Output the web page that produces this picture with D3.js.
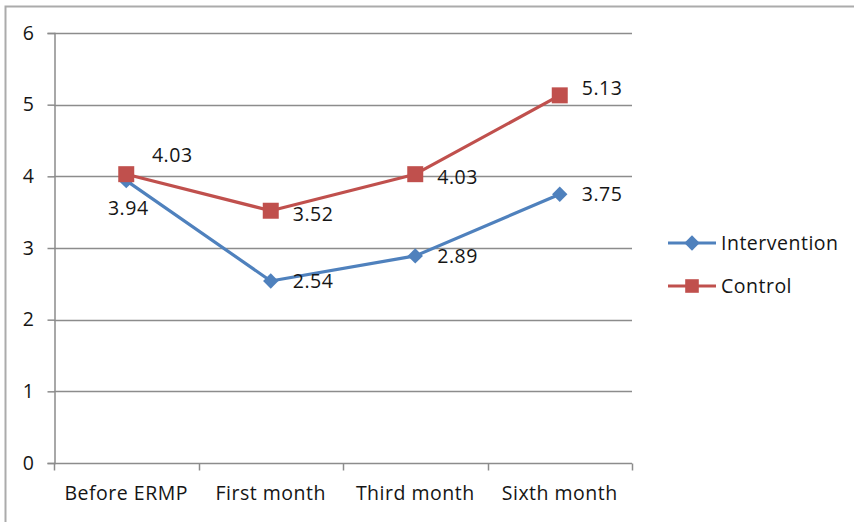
<!DOCTYPE html>
<html>
<head>
<meta charset="utf-8">
<script src="https://cdn.jsdelivr.net/npm/d3@7"></script>
<style>
  html, body { margin: 0; padding: 0; background: #fff; }
  svg { display: block; }
  text { font-family: "Open Sans", sans-serif; fill: #151515; letter-spacing: 0.5px; }
</style>
</head>
<body>
<script>
// Mean scores over the follow-up period
const categories = ["Before ERMP", "First month", "Third month", "Sixth month"];
const intervention = [3.94, 2.54, 2.89, 3.75];
const control = [4.03, 3.52, 4.03, 5.13];
const yTicks = [0, 1, 2, 3, 4, 5, 6];
const seriesNames = ["Intervention", "Control"];

const W = 854, H = 522;
const margin = { left: 54, right: 222, top: 33, bottom: 59 };
const innerW = W - margin.left - margin.right;
const innerH = H - margin.top - margin.bottom;

const svg = d3.select("body").append("svg").attr("width", W).attr("height", H);

// chart frame (top and left edges fall inside the view)
svg.append("rect")
  .attr("x", 5.5).attr("y", 6.5)
  .attr("width", W + 20).attr("height", H + 20)
  .attr("fill", "none").attr("stroke", "#ababab").attr("stroke-width", 2);

const x = d3.scaleBand().domain(categories).range([margin.left, margin.left + innerW]);
const y = d3.scaleLinear().domain([0, 6]).range([margin.top + innerH, margin.top]);

const font = 19.5;

// horizontal gridlines
svg.append("g").selectAll("line").data(yTicks.filter(d => d > 0)).join("line")
  .attr("x1", margin.left).attr("x2", margin.left + innerW)
  .attr("y1", d => Math.round(y(d)) + 0.5).attr("y2", d => Math.round(y(d)) + 0.5)
  .attr("stroke", "#8c8c8c").attr("stroke-width", 1.5);

// y axis
const yAxis = svg.append("g")
  .attr("transform", `translate(${margin.left + 0.5},0)`)
  .call(d3.axisLeft(y).tickValues(yTicks).tickSize(7).tickPadding(13).tickFormat(d3.format("d")));
yAxis.select(".domain").attr("stroke", "#8c8c8c").attr("stroke-width", 1.5);
yAxis.selectAll(".tick line").attr("stroke", "#8c8c8c").attr("stroke-width", 1.5);
yAxis.selectAll("text").style("font-size", font + "px").attr("fill", "#151515")
  .style("font-family", "'Open Sans', sans-serif");

// x axis with ticks at category boundaries
const xAxisG = svg.append("g").attr("transform", `translate(0,${Math.round(y(0)) + 0.5})`);
xAxisG.append("line")
  .attr("x1", margin.left).attr("x2", margin.left + innerW)
  .attr("stroke", "#8c8c8c").attr("stroke-width", 1.5);
const bounds = categories.map(c => x(c)).concat([x(categories[categories.length - 1]) + x.bandwidth()]);
xAxisG.selectAll("line.tk").data(bounds).join("line").attr("class", "tk")
  .attr("x1", d => Math.round(d) + 0.5).attr("x2", d => Math.round(d) + 0.5)
  .attr("y1", 0).attr("y2", 7)
  .attr("stroke", "#8c8c8c").attr("stroke-width", 1.5);
xAxisG.selectAll("text").data(categories).join("text")
  .attr("x", d => x(d) + x.bandwidth() / 2)
  .attr("y", 30)
  .attr("dy", "0.35em")
  .attr("text-anchor", "middle")
  .style("font-size", font + "px")
  .text(d => d);

const cx = d => x(d) + x.bandwidth() / 2;
const blue = "#4f81bd", red = "#c0504d";

const line = d3.line().x(d => cx(d.cat)).y(d => y(d.v));

function drawSeries(values, color, shape, labelPos) {
  const pts = values.map((v, i) => ({ cat: categories[i], v, i }));
  svg.append("path").datum(pts)
    .attr("d", line).attr("fill", "none")
    .attr("stroke", color).attr("stroke-width", 3.2).attr("stroke-linejoin", "round");
  svg.append("g").selectAll("path").data(pts).join("path")
    .attr("transform", d => `translate(${cx(d.cat)},${y(d.v)})`)
    .attr("d", shape)
    .attr("fill", color);
  svg.append("g").selectAll("text").data(pts).join("text")
    .each(function (d) {
      const p = labelPos(d);
      d3.select(this)
        .attr("x", cx(d.cat) + p.dx)
        .attr("y", y(d.v) + p.dy)
        .attr("text-anchor", p.anchor)
        .attr("dy", "0.35em");
    })
    .style("font-size", font + "px")
    .text(d => d3.format(".2f")(d.v));
}

const diamond = d3.symbol().type(d3.symbolDiamond2).size(150)();
const square = "M-8,-8H8V8H-8Z";

drawSeries(intervention, blue, diamond,
  d => d.i === 0 ? { dx: 2, dy: 28, anchor: "middle" } : { dx: 22, dy: 0, anchor: "start" });
drawSeries(control, red, square,
  d => d.i === 0 ? { dx: 46, dy: -19, anchor: "middle" }
     : { dx: 22, dy: d.i === categories.length - 1 ? -7 : 3, anchor: "start" });

// legend
const legend = svg.append("g");
const legendRows = [
  { name: seriesNames[0], color: blue, shape: diamond },
  { name: seriesNames[1], color: red, shape: square }
];
legendRows.forEach((r, i) => {
  const ly = 243 + i * 43;
  legend.append("line").attr("x1", 668).attr("x2", 716).attr("y1", ly).attr("y2", ly)
    .attr("stroke", r.color).attr("stroke-width", 3.2);
  legend.append("path").attr("transform", `translate(692,${ly})${r.shape === square ? " scale(0.85)" : ""}`)
    .attr("d", r.shape).attr("fill", r.color);
  legend.append("text").attr("x", 721).attr("y", ly).attr("dy", "0.35em")
    .style("font-size", font + "px").text(r.name);
});
</script>
</body>
</html>
